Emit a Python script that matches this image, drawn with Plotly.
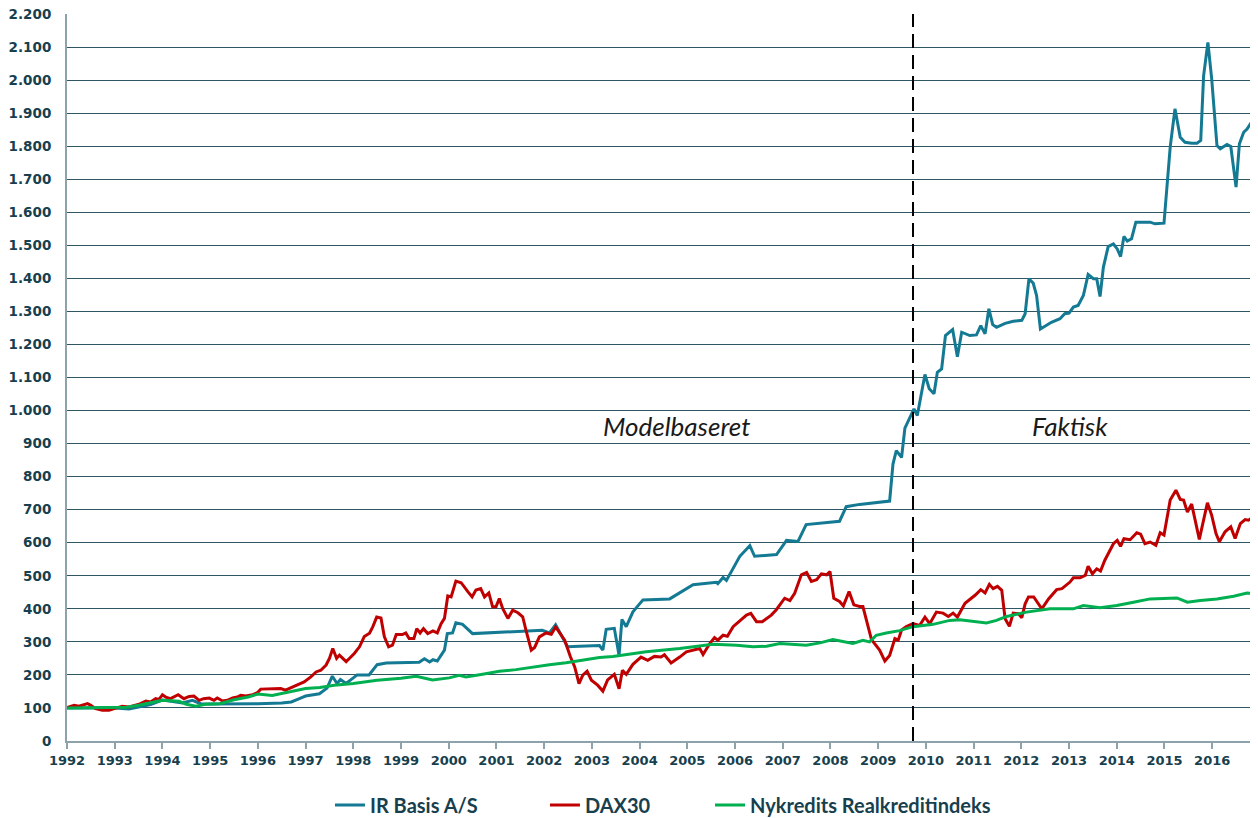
import plotly.graph_objects as go

# ---------------- data (decimal years, index values) ----------------
ir_x = [1992.0, 1992.5, 1993.0, 1993.3, 1993.5, 1993.75, 1994.0, 1994.15, 1994.3, 1994.42,
        1994.63, 1994.8, 1995.0, 1995.5, 1996.0, 1996.5, 1996.7, 1996.87, 1997.0, 1997.29,
        1997.45, 1997.56, 1997.66, 1997.73, 1997.85, 1998.08, 1998.33, 1998.5, 1998.69, 1999.38,
        1999.49, 1999.6, 1999.67, 1999.76, 1999.91, 1999.97, 2000.08, 2000.15, 2000.29, 2000.5,
        2001.06, 2001.96, 2002.11, 2002.24, 2002.38, 2002.49, 2002.74, 2003.16, 2003.23, 2003.3,
        2003.47, 2003.57, 2003.63, 2003.72, 2003.86, 2004.07, 2004.63, 2004.84, 2005.12, 2005.61,
        2005.64, 2005.75, 2005.82, 2006.1, 2006.31, 2006.41, 2006.87, 2007.08, 2007.32, 2007.49,
        2008.19, 2008.33, 2008.61, 2009.24, 2009.31, 2009.38, 2009.49, 2009.56, 2009.66, 2009.75,
        2009.82, 2009.98, 2010.07, 2010.17, 2010.24, 2010.33, 2010.41, 2010.56, 2010.66, 2010.75,
        2010.92, 2011.06, 2011.15, 2011.24, 2011.32, 2011.4, 2011.48, 2011.66, 2011.83, 2012.01,
        2012.08, 2012.16, 2012.25, 2012.32, 2012.4, 2012.63, 2012.81, 2012.91, 2013.0, 2013.09,
        2013.19, 2013.3, 2013.4, 2013.51, 2013.58, 2013.65, 2013.72, 2013.82, 2013.93, 2014.01,
        2014.08, 2014.15, 2014.22, 2014.31, 2014.4, 2014.7, 2014.8, 2014.99, 2015.12, 2015.22,
        2015.33, 2015.43, 2015.57, 2015.68, 2015.76, 2015.82, 2015.91, 2015.99, 2016.1, 2016.17,
        2016.31, 2016.39, 2016.5, 2016.57, 2016.66, 2016.73, 2016.82, 2016.9, 2016.96]
ir_y = [100, 100, 100, 97, 103, 110, 124, 120, 118, 115,
        123, 113, 112, 112, 113, 115, 118, 128, 136, 143,
        160, 196, 174, 186, 174, 200, 200, 231, 236, 238,
        249, 239, 246, 242, 275, 325, 327, 358, 353, 325,
        329, 335, 327, 352, 315, 285, 287, 289, 275, 338,
        341, 259, 368, 346, 391, 427, 430, 449, 473, 480,
        476, 495, 486, 559, 591, 559, 564, 607, 604, 655,
        665, 709, 716, 726, 838, 879, 858, 947, 975, 1005,
        985, 1109, 1066, 1051, 1116, 1126, 1227, 1245, 1163, 1237,
        1227, 1229, 1257, 1232, 1308, 1260, 1252, 1264, 1270, 1273,
        1293, 1399, 1385, 1348, 1247, 1267, 1278, 1293, 1295, 1313,
        1318, 1348, 1412, 1399, 1399, 1345, 1434, 1496, 1504, 1489,
        1466, 1527, 1513, 1520, 1570, 1570, 1565, 1567, 1797, 1913,
        1827, 1812, 1809, 1809, 1817, 2013, 2114, 2003, 1802, 1792,
        1805, 1799, 1676, 1807, 1842, 1852, 1872, 1869, 2013]

dax_x = [1992.0, 1992.15, 1992.25, 1992.36, 1992.43, 1992.5, 1992.6, 1992.74, 1992.88, 1992.99,
         1993.16, 1993.3, 1993.51, 1993.65, 1993.75, 1993.86, 1993.93, 1994.0, 1994.07, 1994.17,
         1994.33, 1994.45, 1994.56, 1994.66, 1994.77, 1994.86, 1994.98, 1995.08, 1995.15, 1995.26,
         1995.36, 1995.47, 1995.57, 1995.64, 1995.75, 1995.89, 1995.99, 1996.06, 1996.31, 1996.48,
         1996.58, 1996.69, 1996.83, 1996.97, 1997.11, 1997.22, 1997.32, 1997.43, 1997.5, 1997.57,
         1997.65, 1997.71, 1997.85, 1998.02, 1998.13, 1998.23, 1998.34, 1998.41, 1998.49, 1998.58,
         1998.65, 1998.74, 1998.82, 1998.9, 1999.03, 1999.1, 1999.17, 1999.27, 1999.33, 1999.4,
         1999.47, 1999.56, 1999.67, 1999.76, 1999.84, 1999.91, 1999.98, 2000.05, 2000.15, 2000.26,
         2000.4, 2000.49, 2000.57, 2000.67, 2000.75, 2000.84, 2000.92, 2000.99, 2001.06, 2001.13,
         2001.24, 2001.34, 2001.45, 2001.55, 2001.62, 2001.73, 2001.8, 2001.9, 2002.04, 2002.15,
         2002.24, 2002.32, 2002.43, 2002.55, 2002.64, 2002.73, 2002.81, 2002.9, 2002.99, 2003.12,
         2003.23, 2003.33, 2003.47, 2003.57, 2003.64, 2003.72, 2003.86, 2004.03, 2004.17, 2004.31,
         2004.45, 2004.52, 2004.66, 2004.84, 2004.98, 2005.26, 2005.33, 2005.47, 2005.57, 2005.64,
         2005.75, 2005.84, 2005.96, 2006.24, 2006.33, 2006.45, 2006.57, 2006.76, 2006.87, 2007.04,
         2007.15, 2007.25, 2007.39, 2007.5, 2007.6, 2007.71, 2007.81, 2007.92, 2007.99, 2008.07,
         2008.19, 2008.27, 2008.39, 2008.49, 2008.61, 2008.68, 2008.86, 2009.03, 2009.14, 2009.24,
         2009.35, 2009.42, 2009.49, 2009.59, 2009.73, 2009.87, 2009.98, 2010.08, 2010.22, 2010.36,
         2010.47, 2010.57, 2010.66, 2010.82, 2010.92, 2011.03, 2011.15, 2011.24, 2011.33, 2011.41,
         2011.5, 2011.59, 2011.66, 2011.75, 2011.83, 2011.94, 2012.01, 2012.08, 2012.15, 2012.26,
         2012.43, 2012.57, 2012.74, 2012.85, 2013.02, 2013.09, 2013.23, 2013.34, 2013.4, 2013.49,
         2013.58, 2013.66, 2013.75, 2013.93, 2014.01, 2014.08, 2014.15, 2014.28, 2014.42, 2014.5,
         2014.59, 2014.7, 2014.82, 2014.91, 2014.99, 2015.12, 2015.24, 2015.33, 2015.4, 2015.48,
         2015.57, 2015.73, 2015.9, 2015.99, 2016.08, 2016.15, 2016.27, 2016.39, 2016.48, 2016.59,
         2016.69, 2016.76, 2016.87, 2016.95]
dax_y = [101, 108, 105, 111, 113, 108, 98, 93, 93, 98,
         105, 103, 111, 121, 118, 128, 126, 140, 133, 128,
         140, 128, 135, 136, 123, 128, 130, 123, 130, 121,
         123, 130, 133, 138, 136, 140, 146, 157, 157, 159,
         154, 161, 169, 179, 194, 209, 214, 230, 250, 280,
         250, 260, 240, 265, 285, 316, 326, 346, 375, 372,
         316, 285, 290, 322, 322, 327, 310, 310, 340, 327,
         340, 325, 333, 327, 355, 371, 439, 436, 484, 479,
         452, 436, 457, 461, 436, 448, 406, 406, 431, 401,
         371, 396, 388, 376, 335, 275, 283, 315, 327, 323,
         345, 327, 305, 255, 224, 174, 199, 211, 184, 169,
         151, 185, 202, 158, 214, 202, 232, 254, 244, 256,
         254, 261, 236, 254, 270, 280, 262, 295, 313, 305,
         320, 317, 346, 381, 386, 361, 361, 381, 398, 432,
         425, 447, 503, 510, 483, 488, 506, 503, 513, 432,
         422, 409, 452, 412, 407, 407, 307, 275, 242, 259,
         310, 305, 336, 346, 355, 350, 375, 355, 390, 387,
         377, 387, 375, 417, 428, 441, 458, 448, 474, 461,
         468, 456, 370, 347, 387, 385, 373, 415, 436, 436,
         400, 430, 458, 461, 481, 494, 494, 501, 529, 506,
         521, 514, 547, 597, 607, 589, 612, 609, 630, 626,
         597, 602, 592, 630, 623, 729, 759, 731, 729, 693,
         717, 610, 721, 683, 628, 603, 633, 648, 613, 658,
         670, 668, 678, 729]

nyk_x = [1992.0, 1992.5, 1993.0, 1993.25, 1993.5, 1993.75, 1994.0, 1994.35, 1994.5, 1994.7,
         1994.9, 1995.2, 1995.5, 1995.8, 1996.0, 1996.3, 1996.5, 1996.8, 1997.0, 1997.3,
         1997.6, 1998.0, 1998.5, 1999.0, 1999.32, 1999.66, 2000.01, 2000.22, 2000.36, 2000.71,
         2001.06, 2001.41, 2001.76, 2002.11, 2002.46, 2002.81, 2003.16, 2003.44, 2004.14, 2004.84,
         2005.54, 2006.03, 2006.38, 2006.66, 2006.94, 2007.49, 2007.78, 2008.05, 2008.26, 2008.47,
         2008.68, 2008.82, 2008.96, 2009.17, 2009.45, 2009.73, 2010.15, 2010.5, 2010.71, 2011.27,
         2011.48, 2011.69, 2012.11, 2012.6, 2013.09, 2013.3, 2013.65, 2014.0, 2014.35, 2014.7,
         2015.26, 2015.48, 2015.75, 2016.1, 2016.45, 2016.73, 2016.96]
nyk_y = [100, 100, 100, 102, 108, 115, 123, 120, 111, 105,
         111, 113, 125, 133, 142, 138, 144, 154, 159, 162,
         169, 174, 184, 190, 196, 185, 191, 199, 194, 202,
         211, 216, 224, 231, 237, 244, 253, 256, 270, 280,
         293, 290, 285, 287, 295, 290, 297, 307, 302, 295,
         305, 300, 320, 327, 334, 346, 353, 365, 367, 357,
         365, 377, 390, 400, 400, 410, 403, 410, 420, 430,
         433, 420, 425, 430, 438, 448, 444]

years = list(range(1992, 2017))
split_year = 2009.73
labels = ["Modelbaseret", "Faktisk"]
label_x = [2004.78, 2013.02]
label_y = [953, 953]

# ---------------- styling ----------------
TXT = "#183f4e"
fig = go.Figure()
fig.add_trace(go.Scatter(x=ir_x, y=ir_y, mode="lines", name="IR Basis A/S",
                         line=dict(color="#147a93", width=3), legend="legend"))
fig.add_trace(go.Scatter(x=dax_x, y=dax_y, mode="lines", name="DAX30",
                         line=dict(color="#c00000", width=3), legend="legend2"))
fig.add_trace(go.Scatter(x=nyk_x, y=nyk_y, mode="lines", name="Nykredits Realkreditindeks",
                         line=dict(color="#00b050", width=3), legend="legend3"))

fig.add_shape(type="line", x0=split_year, x1=split_year, y0=0, y1=2200,
              xref="x", yref="y", line=dict(color="black", width=2, dash="14px,7px"))

for t, xx, yy in zip(labels, label_x, label_y):
    fig.add_annotation(x=xx, y=yy, text=t, showarrow=False, xanchor="center", yanchor="middle",
                       font=dict(family="Lato", size=26, color="#1a1a1a", style="italic"))

leg_common = dict(orientation="h", yanchor="middle", y=-0.088, xanchor="left",
                  bgcolor="rgba(0,0,0,0)",
                  font=dict(family="Lato", size=20, color=TXT, weight="bold"))
# the page body adds an 8px offset, so the figure is sized 8px smaller each way
fig.update_layout(
    width=1250, height=810,
    margin=dict(l=59, r=0, t=6, b=77, autoexpand=False),
    paper_bgcolor="white", plot_bgcolor="white",
    separators=",.",
    legend=dict(x=0.2208, **leg_common),
    legend2=dict(x=0.4013, **leg_common),
    legend3=dict(x=0.5399, **leg_common),
    xaxis=dict(range=[1992, 2016.96], tickvals=years, ticktext=[str(y) for y in years],
               showgrid=False, showline=True, linecolor="#8da2aa", linewidth=2,
               ticks="outside", ticklen=6, tickcolor="#8da2aa", tickwidth=1.5,
               tickfont=dict(family="DejaVu Sans", size=13, color=TXT, weight="bold"),
               zeroline=False, automargin=False, ticklabeloverflow="allow"),
    yaxis=dict(range=[0, 2200], dtick=100, tick0=0, tickformat=",d",
               showgrid=True, gridcolor="#2f5663", gridwidth=1,
               showline=True, linecolor="#8da2aa", linewidth=2,
               ticks="", zeroline=False, ticklabelstandoff=11, automargin=False,
               ticklabeloverflow="allow",
               tickfont=dict(family="DejaVu Sans", size=13.5, color=TXT, weight="bold")),
    showlegend=True,
)

fig.write_html("out.html")
